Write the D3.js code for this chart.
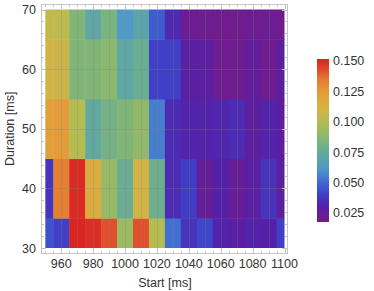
<!DOCTYPE html>
<meta charset="utf-8">
<style>
body { margin: 0; background: #fff; }
text { font-family: "Liberation Sans", Arial, sans-serif; fill: #333; }
.frame line, .frame path { stroke: #c4c4c4; fill: none; shape-rendering: crispEdges; }
.grid line { stroke: #808080; stroke-opacity: 0.28; shape-rendering: crispEdges; }
</style>
<svg width="374" height="291"></svg>
<script src="https://d3js.org/d3.v7.min.js"></script>
<script>

// heatmap data: one row per duration, one value per start time
var starts = [950, 960, 970, 980, 990, 1000, 1010, 1020, 1030, 1040, 1050, 1060, 1070, 1080, 1090, 1100];
var durations = [30, 40, 50, 60, 70];
var dur30 = [0.045, 0.040, 0.151, 0.149, 0.142, 0.093, 0.142, 0.100, 0.052, 0.036, 0.042, 0.031, 0.028, 0.031, 0.030, 0.040];
var dur40 = [0.037, 0.133, 0.150, 0.115, 0.092, 0.077, 0.110, 0.078, 0.034, 0.039, 0.024, 0.030, 0.024, 0.028, 0.036, 0.027];
var dur50 = [0.122, 0.124, 0.100, 0.073, 0.081, 0.085, 0.090, 0.055, 0.034, 0.031, 0.031, 0.032, 0.034, 0.027, 0.031, 0.027];
var dur60 = [0.110, 0.108, 0.085, 0.085, 0.088, 0.072, 0.077, 0.040, 0.040, 0.028, 0.028, 0.021, 0.021, 0.026, 0.021, 0.027];
var dur70 = [0.105, 0.103, 0.085, 0.072, 0.083, 0.062, 0.070, 0.047, 0.033, 0.022, 0.022, 0.020, 0.020, 0.022, 0.022, 0.020];
var rows = [dur30, dur40, dur50, dur60, dur70];
var xTicks = [960, 980, 1000, 1020, 1040, 1060, 1080, 1100];
var yTicks = [30, 40, 50, 60, 70];
var legendTicks = [0.025, 0.050, 0.075, 0.100, 0.125, 0.150];

var svg = d3.select("svg");

var x = d3.scaleLinear().domain([950, 1100]).range([45.3, 284.5]);
var y = d3.scaleLinear().domain([30, 70]).range([248, 9.5]);

// rainbow-like colour function
var color = d3.scaleLinear()
  .domain([0.0176, 0.03, 0.04, 0.05, 0.062, 0.075, 0.088, 0.1, 0.112, 0.125, 0.135, 0.143, 0.1516])
  .range(["#781b86", "#5520a8", "#3f3fc8", "#3f68d2", "#4f9ac6", "#64ab98", "#8ab86e",
          "#b4bc52", "#d8b243", "#e49a38", "#e57a30", "#e04a2c", "#da2222"])
  .clamp(true);

var cells = [];
rows.forEach(function(r, i) {
  r.forEach(function(v, j) {
    cells.push({start: starts[j], dur: durations[i], value: v});
  });
});

svg.append("clipPath").attr("id", "clip")
  .append("rect")
  .attr("x", x(950)).attr("y", y(70))
  .attr("width", x(1100) - x(950)).attr("height", y(30) - y(70));

var plot = svg.append("g").attr("clip-path", "url(#clip)");
plot.selectAll("rect")
  .data(cells)
  .enter().append("rect")
    .attr("x", function(d) { return x(d.start - 5); })
    .attr("y", function(d) { return y(d.dur + 5); })
    .attr("width", x(960) - x(950) + 0.5)
    .attr("height", y(30) - y(40) + 0.5)
    .attr("fill", function(d) { return color(d.value); });

// faint grid lines every 10 ms
var grid = svg.append("g").attr("class", "grid");
grid.selectAll(".gx")
  .data(d3.range(960, 1100, 10))
  .enter().append("line")
    .attr("x1", function(d) { return Math.round(x(d)) + 0.5; })
    .attr("x2", function(d) { return Math.round(x(d)) + 0.5; })
    .attr("y1", y(70)).attr("y2", y(30));
grid.selectAll(".gy")
  .data([40, 50, 60])
  .enter().append("line")
    .attr("y1", function(d) { return Math.round(y(d)) + 0.5; })
    .attr("y2", function(d) { return Math.round(y(d)) + 0.5; })
    .attr("x1", x(950)).attr("x2", x(1100));

// frame with inward ticks on every side
var fl = 41, fr = 287, ft = 4, fb = 253;
var frame = svg.append("g").attr("class", "frame");
frame.append("rect")
  .attr("x", fl + 0.5).attr("y", ft + 0.5)
  .attr("width", fr - fl).attr("height", fb - ft)
  .attr("fill", "none").attr("stroke", "#c4c4c4");

var xMinor = d3.range(950, 1101, 5);
frame.selectAll(".tx")
  .data(xMinor)
  .enter().append("g")
  .each(function(d) {
    var len = d % 20 === 0 ? 5 : 2.5;
    var px = Math.round(x(d)) + 0.5;
    d3.select(this).append("line").attr("x1", px).attr("x2", px).attr("y1", fb).attr("y2", fb - len);
    d3.select(this).append("line").attr("x1", px).attr("x2", px).attr("y1", ft).attr("y2", ft + len);
  });

var yMinor = d3.range(30, 71, 2);
frame.selectAll(".ty")
  .data(yMinor)
  .enter().append("g")
  .each(function(d) {
    var len = d % 10 === 0 ? 5 : 2.5;
    var py = Math.round(y(d)) + 0.5;
    d3.select(this).append("line").attr("y1", py).attr("y2", py).attr("x1", fl).attr("x2", fl + len);
    d3.select(this).append("line").attr("y1", py).attr("y2", py).attr("x1", fr).attr("x2", fr - len);
  });

// tick labels
svg.append("g").selectAll("text")
  .data(xTicks)
  .enter().append("text")
    .attr("x", function(d) { return x(d); })
    .attr("y", 268)
    .attr("text-anchor", "middle")
    .attr("font-size", "12.5px")
    .text(function(d) { return d; });

svg.append("g").selectAll("text")
  .data(yTicks)
  .enter().append("text")
    .attr("x", 36)
    .attr("y", function(d) { return y(d) + 4.5; })
    .attr("text-anchor", "end")
    .attr("font-size", "12.5px")
    .text(function(d) { return d; });

svg.append("text")
  .attr("x", (x(950) + x(1100)) / 2)
  .attr("y", 287)
  .attr("text-anchor", "middle")
  .attr("font-size", "12.5px")
  .text("Start [ms]");

svg.append("text")
  .attr("transform", "translate(14," + ((y(30) + y(70)) / 2) + ") rotate(-90)")
  .attr("text-anchor", "middle")
  .attr("font-size", "12.5px")
  .text("Duration [ms]");

// colour legend
var ly = d3.scaleLinear().domain([0.0176, 0.1516]).range([222, 59]);
var grad = svg.append("defs").append("linearGradient")
  .attr("id", "grad").attr("x1", 0).attr("x2", 0).attr("y1", 1).attr("y2", 0);
color.domain().forEach(function(v, i) {
  grad.append("stop")
    .attr("offset", (v - 0.0176) / (0.1516 - 0.0176))
    .attr("stop-color", color.range()[i]);
});
svg.append("rect")
  .attr("x", 317).attr("y", ly(0.1516))
  .attr("width", 12).attr("height", ly(0.0176) - ly(0.1516))
  .attr("fill", "url(#grad)");

svg.append("g").selectAll("text")
  .data(legendTicks)
  .enter().append("text")
    .attr("x", 333)
    .attr("y", function(d) { return ly(d) + 4.5; })
    .attr("font-size", "12.5px")
    .text(function(d) { return d3.format(".3f")(d); });
</script>
